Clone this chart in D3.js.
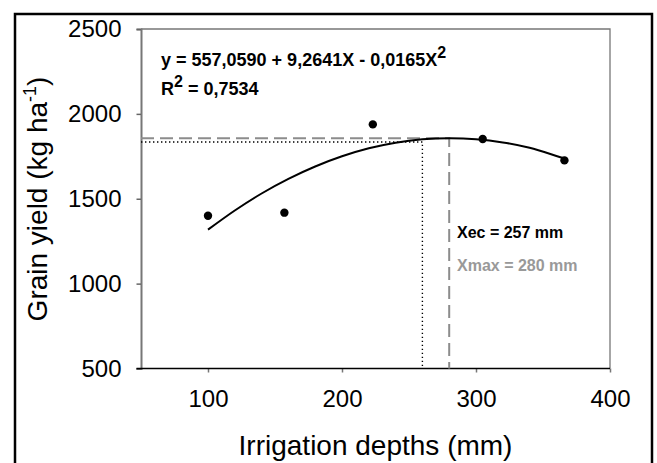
<!DOCTYPE html>
<html><head><meta charset="utf-8">
<script src="https://cdn.jsdelivr.net/npm/d3@7"></script>
<style>body{margin:0;background:#fff}svg{display:block;font-family:"Liberation Sans",Arial,sans-serif}</style>
</head><body>
<svg id="c" width="657" height="463"></svg>
<script>
// observed points
const depths = [100, 157, 223, 305, 366];
const yields = [1400, 1418, 1938, 1852, 1726];
// fitted curve
const curveX = [100, 120, 140, 160, 180, 200, 220, 240, 260, 280, 300, 320, 340, 366];
const curveY = [1318, 1431, 1531, 1617, 1690, 1750, 1797, 1830, 1850, 1857, 1851, 1832, 1800, 1737];
// reference lines
const xmaxLine = [280, 1857];
const xecLine = [260, 1834];
const xTicks = [100, 200, 300, 400];
const yTicks = [500, 1000, 1500, 2000, 2500];

const svg = d3.select("#c");
const x = d3.scaleLinear().domain([50, 400]).range([141, 610]);
const y = d3.scaleLinear().domain([500, 2500]).range([368.5, 29]);

// outer frame
svg.append("rect").attr("x", 15).attr("y", 14).attr("width", 637).attr("height", 470)
  .attr("fill", "none").attr("stroke", "#000").attr("stroke-width", 2.5);

// plot frame top/right
svg.append("path").attr("d", `M${x(50)},${y(2500)}H${x(400)}V${y(500)}`)
  .attr("fill", "none").attr("stroke", "#777").attr("stroke-width", 1.3);

// y axis
const ya = svg.append("g").attr("transform", `translate(${x(50)},0)`)
  .call(d3.axisLeft(y).tickValues(yTicks).tickSize(4.5).tickPadding(15).tickFormat(d3.format("d")));
ya.select(".domain").attr("stroke", "#777").attr("stroke-width", 2);
ya.selectAll(".tick line").attr("stroke", "#666").attr("stroke-width", 1.5);
ya.selectAll("text").attr("font-size", 24).attr("fill", "#000").attr("font-family", "Liberation Sans, Arial, sans-serif");

// x axis
const xa = svg.append("g").attr("transform", `translate(0,${y(500)})`)
  .call(d3.axisBottom(x).tickValues(xTicks).tickSize(4).tickPadding(0).tickFormat(d3.format("d")));
xa.select(".domain").remove();
xa.selectAll(".tick line").attr("stroke", "#777").attr("stroke-width", 1.5);
xa.selectAll("text").attr("font-size", 24).attr("fill", "#000").attr("dy", null).attr("y", 38.5)
  .attr("font-family", "Liberation Sans, Arial, sans-serif");
svg.append("line").attr("x1", 136.5).attr("x2", x(400)).attr("y1", y(500)).attr("y2", y(500))
  .attr("stroke", "#000").attr("stroke-width", 1.5);

// reference lines
svg.append("path").attr("d", `M${x(50)},${y(xmaxLine[1])}H${x(xmaxLine[0])}V${y(500)}`)
  .attr("fill", "none").attr("stroke", "#8c8c8c").attr("stroke-width", 2).attr("stroke-dasharray", "13,6");
svg.append("path").attr("d", `M${x(50)},${y(xecLine[1])}H${x(xecLine[0])}V${y(500)}`)
  .attr("fill", "none").attr("stroke", "#000").attr("stroke-width", 1.4).attr("stroke-dasharray", "1.4,2.6");

// curve
const pts = curveX.map((d, i) => [d, curveY[i]]);
svg.append("path").datum(pts)
  .attr("d", d3.line().x(d => x(d[0])).y(d => y(d[1])).curve(d3.curveCatmullRom))
  .attr("fill", "none").attr("stroke", "#000").attr("stroke-width", 2);

// points
svg.selectAll("circle.pt").data(depths).join("circle").attr("class", "pt")
  .attr("cx", d => x(d)).attr("cy", (d, i) => y(yields[i])).attr("r", 4.2).attr("fill", "#000");

// equation
const eq = svg.append("text").attr("x", 161).attr("y", 65.5).attr("font-size", 18).attr("font-weight", "bold");
eq.append("tspan").text("y = 557,0590 + 9,2641X - 0,0165X");
eq.append("tspan").attr("font-size", 16).attr("dy", -8).text("2");
const r2 = svg.append("text").attr("x", 161).attr("y", 95).attr("font-size", 18).attr("font-weight", "bold");
r2.append("tspan").text("R");
r2.append("tspan").attr("font-size", 16).attr("dy", -8).text("2");
r2.append("tspan").attr("dy", 8).text(" = 0,7534");

// annotations
svg.append("text").attr("x", 457).attr("y", 237.5).attr("font-size", 16).attr("font-weight", "bold")
  .attr("fill", "#000").text("Xec = 257 mm");
svg.append("text").attr("x", 457).attr("y", 270.5).attr("font-size", 16).attr("font-weight", "bold")
  .attr("fill", "#999").text("Xmax = 280 mm");

// axis titles
svg.append("text").attr("x", 375.5).attr("y", 455).attr("text-anchor", "middle").attr("font-size", 28)
  .text("Irrigation depths (mm)");
const yt = svg.append("text").attr("transform", "translate(47,199) rotate(-90)").attr("text-anchor", "middle")
  .attr("font-size", 28);
yt.append("tspan").text("Grain yield (kg ha");
yt.append("tspan").attr("font-size", 18).attr("dy", -11).text("-1");
yt.append("tspan").attr("dy", 11).text(")");
</script>
</body></html>
